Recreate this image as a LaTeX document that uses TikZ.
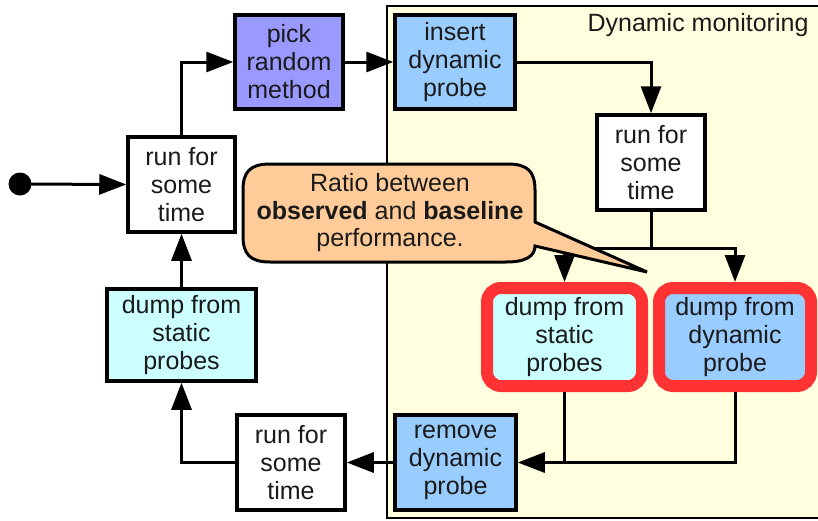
\documentclass[tikz,border=0pt]{standalone}
\usepackage{fontspec}
\setmainfont{Liberation Sans}
\usetikzlibrary{arrows.meta}
\definecolor{pickc}{HTML}{9999FF}
\definecolor{dync}{HTML}{99CCFF}
\definecolor{statc}{HTML}{CCFFFF}
\definecolor{framec}{HTML}{FFFFE0}
\definecolor{callc}{HTML}{FFCC99}
\definecolor{redc}{HTML}{FF3333}
\definecolor{txtc}{HTML}{1A1A1A}
\tikzset{
  box/.style={draw=black, line width=3.5pt, inner sep=0pt, align=center, text=txtc,
    font=\fontsize{25}{28}\selectfont},
  hibox/.style={draw=redc, line width=12pt, rounded corners=14pt, inner sep=0pt,
    align=center, text=txtc, font=\fontsize{25}{28}\selectfont},
  conn/.style={line width=3pt, black},
  arr/.style={conn, -{Triangle[length=27pt,width=20pt]}},
}
\begin{document}
\begin{tikzpicture}[x=1pt,y=-1pt]
\useasboundingbox (0,0) rectangle (818,520);
% frame
\draw[fill=framec, line width=2.5pt] (387,6) rectangle (824,518);
\node[anchor=base east, text=txtc, font=\fontsize{25}{28}\selectfont] (framelabel) at (812,31) {Dynamic monitoring};
% start
\fill (20,184) circle (11.5);
\coordinate (start) at (20,184);
% nodes
\node[box, fill=white, minimum width=107pt, minimum height=95pt] (run1) at (181.5,184.5) {run for\\some\\time};
\node[box, fill=pickc, minimum width=108pt, minimum height=94pt] (pick) at (289,62) {pick\\random\\method};
\node[box, fill=dync, minimum width=120pt, minimum height=94pt] (insert) at (455,62) {insert\\dynamic\\probe};
\node[box, fill=white, minimum width=108pt, minimum height=95pt] (run2) at (651,162.5) {run for\\some\\time};
\node[hibox, fill=statc, minimum width=155pt, minimum height=98pt] (dumpS) at (564.5,337) {dump from\\static\\probes};
\node[hibox, fill=dync, minimum width=152pt, minimum height=98pt] (dumpD) at (735,337) {dump from\\dynamic\\probe};
\node[box, fill=dync, minimum width=121pt, minimum height=95pt] (remove) at (455.5,462.5) {remove\\dynamic\\probe};
\node[box, fill=white, minimum width=108pt, minimum height=95pt] (run3) at (291,462.5) {run for\\some\\time};
\node[box, fill=statc, minimum width=149pt, minimum height=92pt] (dumpL) at (181.5,335) {dump from\\static\\probes};
% connectors
\draw[arr] (start) -- (run1.west);
\draw[arr] (run1.north) |- (pick.west);
\draw[arr] (pick.east) -- (insert.west);
\draw[arr] (insert.east) -| (run2.north);
\coordinate (split) at (651,248);
\draw[conn] (run2.south) -- (split);
\draw[arr] (split) -| (dumpS.north);
\draw[arr] (split) -| (dumpD.north);
\draw[conn] (dumpS.south) -- (dumpS.south |- remove.east);
\draw[arr] (dumpD.south) |- (remove.east);
\draw[arr] (remove.west) -- (run3.east);
\draw[arr] (run3.west) -| (dumpL.south);
\draw[arr] (dumpL.north) -- (run1.south);
% callout
\draw[fill=callc, line width=3pt, line join=miter]
  (270,164) -- (508,164) .. controls (528,164) and (535,172) .. (535,190)
  -- (535,222) -- (647,272) -- (535,246)
  .. controls (535,256) and (526,262) .. (506,262)
  -- (270,262) .. controls (250,262) and (243,254) .. (243,236)
  -- (243,190) .. controls (243,172) and (250,164) .. (270,164) -- cycle;
\node[align=center, text=txtc, font=\fontsize{25}{27.5}\selectfont] (callout) at (390,213)
  {Ratio between\\\textbf{observed} and \textbf{baseline}\\performance.};
\end{tikzpicture}
\end{document}
